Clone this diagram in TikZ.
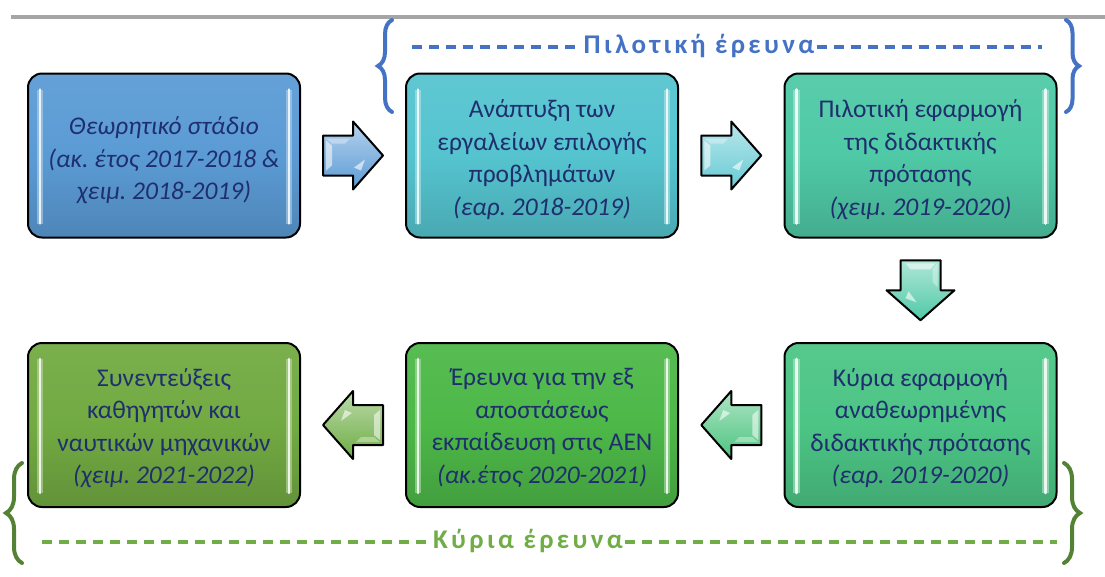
\documentclass[tikz,border=0pt]{standalone}
\usepackage{fontspec}
\setmainfont{Carlito}
\newfontfamily\widefont[LetterSpace=12.5]{Carlito}
\usetikzlibrary{calc,decorations.pathreplacing}
\frenchspacing

\definecolor{txt}{HTML}{1F2F6E}
\definecolor{cA}{HTML}{5B9BD5}
\definecolor{cB}{HTML}{55C4CF}
\definecolor{cC}{HTML}{4FC9A6}
\definecolor{cD}{HTML}{4CC585}
\definecolor{cE}{HTML}{4DB848}
\definecolor{cF}{HTML}{72AA42}
\definecolor{pilot}{HTML}{4472C4}
\definecolor{mainG}{HTML}{70AD47}
\definecolor{mainB}{HTML}{548235}
\definecolor{rulegray}{HTML}{A5A5A5}

\tikzset{
  stage/.style={draw=black, line width=2pt, rounded corners=14pt,
    minimum width=272pt, minimum height=164pt, inner sep=0pt,
    top color=#1!94!white, bottom color=#1!86!black, middle color=#1},
  stagetext/.style={inner sep=0pt, align=center, text=txt,
    font=\fontsize{25.5}{32.5}\selectfont},
  glint/.style={line cap=round, line width=2.6pt, draw=#1!12!white,
    preaction={draw=#1!45!white, line width=6.5pt, opacity=0.6}},
  bracket/.style={line width=4pt, line cap=round, decorate,
    decoration={brace, amplitude=#1}},
  dashline/.style={line width=3.5pt, dash pattern=on 10pt off 7pt},
  heading/.style={font={\widefont\bfseries\fontsize{27}{27}\selectfont}, inner sep=2pt},
  pics/blockarrow/.style={code={
    \draw[line width=2pt, line join=round, draw=black,
          top color=#1!45!white, bottom color=#1]
      (-30,-20) -- (0,-20) -- (0,-34) -- (30,0) -- (0,34) -- (0,20)
      -- (-30,20) -- cycle;
    \fill[white, opacity=0.55] (-27,-15) -- (-21,-10) -- (-21,10) -- (-27,15) -- cycle;
    \fill[white, opacity=0.6] (1,12) -- (12,4) -- (8,15) -- cycle;
    \fill[white, opacity=0.35] (-27,-17) -- (-3,-17) -- (-8,-12) -- (-21,-12) -- cycle;
  }}
}

\begin{document}
\begin{tikzpicture}[x=1pt, y=-1pt]
\useasboundingbox (0,0) rectangle (1105,576);

% top rule
\coordinate (ruleL) at (11,17);
\coordinate (ruleR) at (1105,17);
\draw[rulegray, line width=4pt] (ruleL) -- (ruleR);

% stage boxes: top row left to right, bottom row right to left
\node[stage=cA] (b1) at (164,155.5) {};
\node[stage=cB] (b2) at (542,155.5) {};
\node[stage=cC] (b3) at (920.5,155.5) {};
\node[stage=cD] (b6) at (920.5,425) {};
\node[stage=cE] (b5) at (542,425) {};
\node[stage=cF] (b4) at (164,425) {};

% light edges inside the stages
\foreach \n/\c in {b1/cA, b2/cB, b3/cC, b4/cF, b5/cE, b6/cD} {
  \draw[glint=\c] ($(\n.north west)+(13,17)$) -- ($(\n.south west)+(13,-15)$);
  \draw[glint=\c] ($(\n.north east)+(-12,17)$) -- ($(\n.south east)+(-12,-15)$);
}

% stage texts, set slightly below the box centres
\node[stagetext] (t1) at ([yshift=-5pt]b1.center)
  {\itshape Θεωρητικό στάδιο\\ \itshape (ακ. έτος 2017-2018 \&\\ \itshape χειμ. 2018-2019)};
\node[stagetext] (t2) at ([yshift=-4pt]b2.center)
  {Ανάπτυξη των\\ εργαλείων επιλογής\\ προβλημάτων\\ \textit{(εαρ. 2018-2019)}};
\node[stagetext] (t3) at ([yshift=-4pt]b3.center)
  {Πιλοτική εφαρμογή\\ της διδακτικής\\ πρότασης\\ \textit{(χειμ. 2019-2020)}};
\node[stagetext] (t6) at ([yshift=-3pt]b6.center)
  {Κύρια εφαρμογή\\ αναθεωρημένης\\ διδακτικής πρότασης\\ \textit{(εαρ. 2019-2020)}};
\node[stagetext] (t5) at ([yshift=-3pt]b5.center)
  {Έρευνα για την εξ\\ αποστάσεως\\ εκπαίδευση στις ΑΕΝ\\ \textit{(ακ.έτος 2020-2021)}};
\node[stagetext] (t4) at ([yshift=-3pt]b4.center)
  {Συνεντεύξεις\\ καθηγητών και\\ ναυτικών μηχανικών\\ \textit{(χειμ. 2021-2022)}};

% block arrows between the stages
\pic at ($(b1.east)!0.5!(b2.west)$) {blockarrow=cA};
\pic at ($(b2.east)!0.5!(b3.west)$) {blockarrow=cB!90!white};
\pic[rotate=-90] at ($(b3.south)!0.5!(b6.north)$) {blockarrow=cC};
\pic[rotate=180] at ($(b6.west)!0.5!(b5.east)$) {blockarrow=cD!90!cE};
\pic[rotate=180] at ($(b5.west)!0.5!(b4.east)$) {blockarrow=cF!85!cE};

% pilot study bracket
\draw[pilot, bracket=14pt] (392,112) -- (392,20);
\draw[pilot, bracket=13pt] (1066,20) -- (1066,112);
\node[heading, text=pilot] (pt) at (699,46) {Πιλοτική έρευνα};
\coordinate (ptL) at (412,47);
\coordinate (ptR) at (1042,47);
\draw[pilot, dashline] (ptL) -- (pt.west |- ptL);
\draw[pilot, dashline] (pt.east |- ptR) -- (ptR);

% main study bracket
\draw[mainB, bracket=16pt] (22,563) -- (22,463);
\draw[mainB, bracket=16pt] (1064,463) -- (1064,563);
\node[heading, text=mainG] (kt) at (528,541) {Κύρια έρευνα};
\coordinate (ktL) at (42,542);
\coordinate (ktR) at (1057,542);
\draw[mainG, dashline] (ktL) -- (kt.west |- ktL);
\draw[mainG, dashline] (kt.east |- ktR) -- (ktR);
\end{tikzpicture}
\end{document}
